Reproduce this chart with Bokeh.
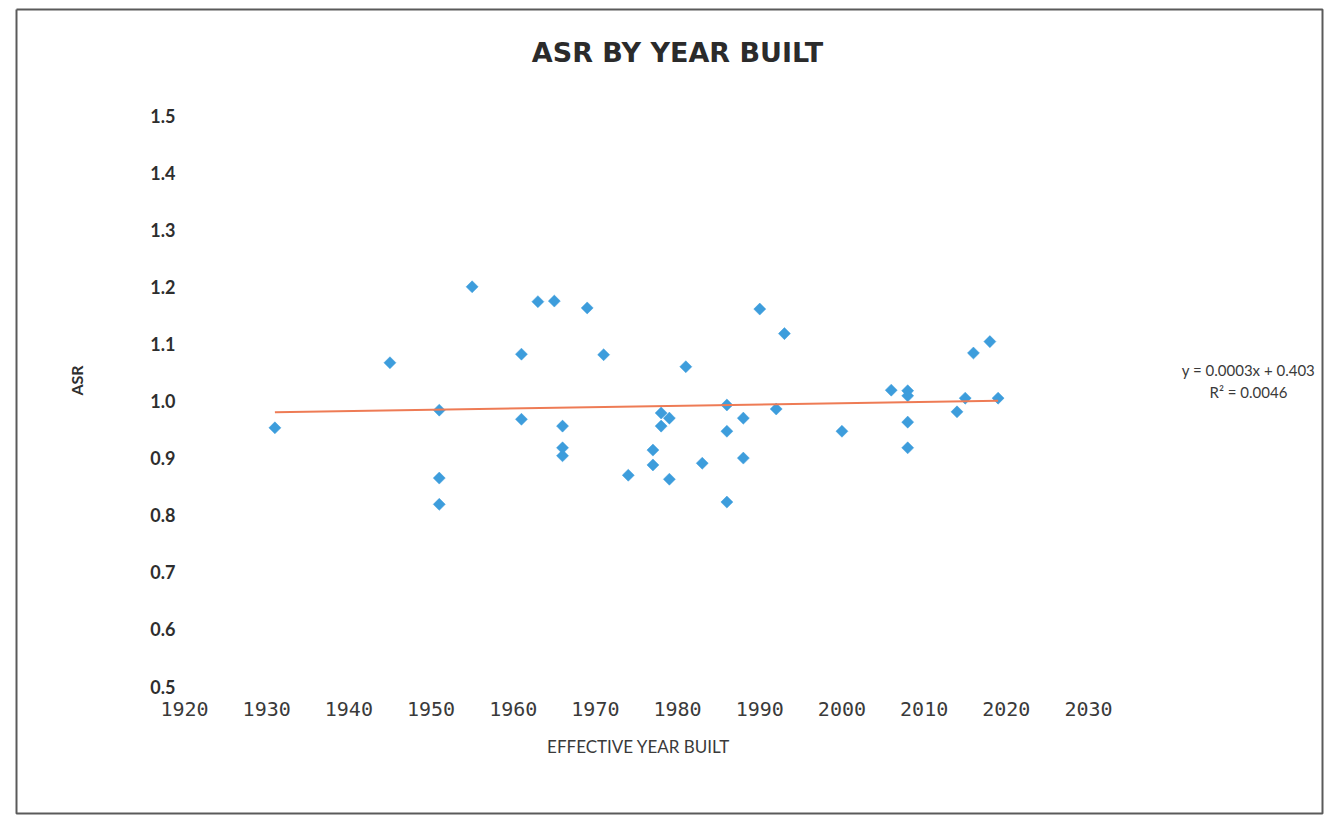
import numpy as np
from bokeh.plotting import figure
from bokeh.models import Label, FixedTicker, PrintfTickFormatter, ColumnDataSource
from bokeh.embed import file_html
from bokeh.resources import INLINE

# ---- data ----
year_built = [1931, 1945, 1955, 1951, 1951, 1951, 1961, 1961, 1963, 1965,
              1969, 1971, 1966, 1966, 1966, 1974, 1977, 1977, 1978, 1979,
              1978, 1979, 1981, 1983, 1986, 1986, 1986, 1988, 1988, 1990,
              1992, 1993, 2000, 2006, 2008, 2008, 2008, 2008, 2014, 2015,
              2016, 2018, 2019]
asr = [0.953, 1.067, 1.200, 0.984, 0.865, 0.819, 1.082, 0.968, 1.174, 1.175,
       1.163, 1.081, 0.956, 0.918, 0.904, 0.870, 0.914, 0.888, 0.979, 0.970,
       0.956, 0.863, 1.060, 0.891, 0.993, 0.947, 0.823, 0.970, 0.900, 1.161,
       0.986, 1.118, 0.947, 1.019, 1.018, 1.009, 0.963, 0.918, 0.981, 1.005,
       1.084, 1.104, 1.005]

year_ticks = [1920, 1930, 1940, 1950, 1960, 1970, 1980, 1990, 2000, 2010, 2020, 2030]
asr_ticks = [0.5, 0.6, 0.7, 0.8, 0.9, 1.0, 1.1, 1.2, 1.3, 1.4, 1.5]

title_text = "ASR BY YEAR BUILT"
x_label = "EFFECTIVE YEAR BUILT"
y_label = "ASR"
equation_text = "y = 0.0003x + 0.403"
r2_text = "R\u00b2 = 0.0046"

# linear trend (least squares over the data)
slope, intercept = np.polyfit(year_built, asr, 1)
trend_x = [min(year_built), max(year_built)]
trend_y = [slope * x + intercept for x in trend_x]

# ---- layout: the frame covers the whole canvas; axes are fixed inside it ----
W, H = 1332, 816
X_MIN, X_MAX = year_ticks[0], year_ticks[-1]
Y_MIN, Y_MAX = asr_ticks[0], asr_ticks[-1]
PX_L, PX_R = 184.0, 1088.0   # pixel columns of the first / last year tick
PY_T, PY_B = 115.0, 686.0    # pixel rows of the top / bottom ASR tick
kx = (X_MAX - X_MIN) / (PX_R - PX_L)
ky = (Y_MAX - Y_MIN) / (PY_B - PY_T)
x0 = X_MIN - PX_L * kx
x1 = x0 + W * kx
y1 = Y_MAX + PY_T * ky
y0 = y1 - H * ky


def dx(px):
    return x0 + px * kx


def dy(py):
    return y1 - py * ky


p = figure(
    width=W, height=H, x_range=(x0, x1), y_range=(y0, y1),
    min_border=0, title=None,
    output_backend="svg", toolbar_location=None,
    background_fill_color="white", border_fill_color="white",
)
p.outline_line_color = None
p.grid.visible = False

xa = p.xaxis[0]
ya = p.yaxis[0]
xa.fixed_location = Y_MIN
ya.fixed_location = X_MIN
xa.bounds = (X_MIN, X_MAX)
ya.bounds = (Y_MIN, Y_MAX)
for ax in (xa, ya):
    ax.axis_line_color = None
    ax.major_tick_line_color = None
    ax.minor_tick_line_color = None
    ax.major_tick_out = 0
    ax.major_tick_in = 0
    ax.minor_tick_out = 0
    ax.minor_tick_in = 0

xa.ticker = FixedTicker(ticks=year_ticks)
xa.formatter = PrintfTickFormatter(format="%d")
xa.major_label_text_font = "DejaVu Sans Mono"
xa.major_label_text_font_size = "20px"
xa.major_label_text_color = "#3a3a3a"
xa.major_label_standoff = 15

ya.ticker = FixedTicker(ticks=asr_ticks)
ya.formatter = PrintfTickFormatter(format="%.1f")
ya.major_label_text_font = "Lato"
ya.major_label_text_font_style = "bold"
ya.major_label_text_font_size = "18px"
ya.major_label_text_color = "#2e2e2e"
ya.major_label_standoff = 9

# chart border
p.line([dx(16), dx(1322), dx(1322), dx(16), dx(16)],
       [dy(9), dy(9), dy(813), dy(813), dy(9)],
       line_color="#5a5a5a", line_width=2)

src = ColumnDataSource(dict(x=year_built, y=asr))
p.scatter("x", "y", source=src, marker="square", angle=np.pi / 4, size=8.5,
          fill_color="#3d9ddc", line_color="#3d9ddc", line_width=0.5)
p.line(trend_x, trend_y, line_color="#ee7b55", line_width=2)

p.add_layout(Label(x=dx(677), y=dy(52), text=title_text,
                   text_font="DejaVu Sans", text_font_style="bold", text_font_size="27px",
                   text_color="#2b2b2b", text_align="center", text_baseline="middle"))
p.add_layout(Label(x=dx(76), y=dy(380), text=y_label, angle=np.pi / 2,
                   text_font="Lato", text_font_style="bold", text_font_size="16px",
                   text_color="#2e2e2e", text_align="center", text_baseline="middle"))
p.add_layout(Label(x=dx(638), y=dy(746), text=x_label,
                   text_font="Lato", text_font_size="17px", text_color="#3a3a3a",
                   text_align="center", text_baseline="middle"))
p.add_layout(Label(x=dx(1248), y=dy(369), text=equation_text,
                   text_font="Lato", text_font_size="15px", text_color="#3a3a3a",
                   text_align="center", text_baseline="middle"))
p.add_layout(Label(x=dx(1248), y=dy(391), text=r2_text,
                   text_font="Lato", text_font_size="15px", text_color="#3a3a3a",
                   text_align="center", text_baseline="middle"))

open("out.html", "w").write(file_html(p, INLINE))
